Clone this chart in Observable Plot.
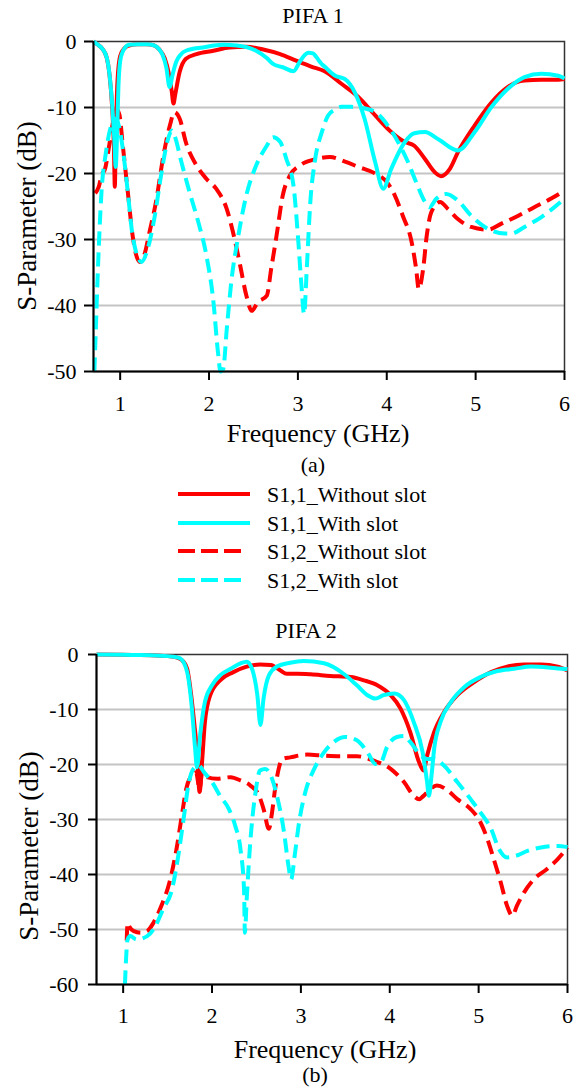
<!DOCTYPE html>
<html><head><meta charset="utf-8">
<script src="https://cdn.jsdelivr.net/npm/d3@7"></script>
<script src="https://cdn.jsdelivr.net/npm/@observablehq/plot@0.6"></script>
<style>
body{margin:0;background:#fff;}
#wrap{position:relative;width:583px;height:1088px;overflow:hidden;font-family:'Liberation Serif','DejaVu Serif',serif;}
#c1,#c2{position:absolute;left:0;}
#c1{top:0;} #c2{top:600px;}
#ov{position:absolute;left:0;top:0;pointer-events:none;}
svg text{font-family:'Liberation Serif','DejaVu Serif',serif !important;}
#ov text{fill:#000;}
</style></head><body>
<div id="wrap"><div id="c1"></div><div id="c2"></div>
<svg id="ov" width="583" height="1088" xmlns="http://www.w3.org/2000/svg" font-family="Liberation Serif">
  <text x="313" y="23" text-anchor="middle" font-size="22">PIFA 1</text>
  <text transform="translate(36,216) rotate(-90)" text-anchor="middle" font-size="27">S-Parameter (dB)</text>
  <text x="318" y="442" text-anchor="middle" font-size="26">Frequency (GHz)</text>
  <text x="313" y="472" text-anchor="middle" font-size="22">(a)</text>
  <line x1="178" x2="250" y1="494" y2="494" stroke="#ff0000" stroke-width="4"/>
  <line x1="178" x2="250" y1="523" y2="523" stroke="#00ffff" stroke-width="4"/>
  <line x1="178" x2="241" y1="551" y2="551" stroke="#ff0000" stroke-width="4" stroke-dasharray="17,6"/>
  <line x1="178" x2="241" y1="580" y2="580" stroke="#00ffff" stroke-width="4" stroke-dasharray="17,6"/>
  <text x="267" y="502" font-size="22">S1,1_Without slot</text>
  <text x="267" y="531" font-size="22">S1,1_With slot</text>
  <text x="267" y="559" font-size="22">S1,2_Without slot</text>
  <text x="267" y="588" font-size="22">S1,2_With slot</text>
  <text x="306" y="638" text-anchor="middle" font-size="22">PIFA 2</text>
  <text transform="translate(38,846) rotate(-90)" text-anchor="middle" font-size="27">S-Parameter (dB)</text>
  <text x="325" y="1058" text-anchor="middle" font-size="26">Frequency (GHz)</text>
  <text x="315" y="1082" text-anchor="middle" font-size="22">(b)</text>
</svg>
</div>
<script>
const RED = "#ff0000", CYAN = "#00ffff";
const xTicks = [1, 2, 3, 4, 5, 6];
const yTicks1 = [0, -10, -20, -30, -40, -50];
const yTicks2 = [0, -10, -20, -30, -40, -50, -60];

// PIFA 1
const p1S11WoF = [0.70,0.75,0.80,0.85,0.88,0.91,0.93,0.94,0.95,0.97,1.00,1.05,1.10,1.20,1.30,1.38,1.44,1.50,1.55,1.58,1.60,1.62,1.67,1.74,1.86,2.05,2.23,2.42,2.61,2.80,2.98,3.15,3.30,3.49,3.68,3.87,4.05,4.20,4.31,4.43,4.54,4.61,4.71,4.80,4.99,5.18,5.36,5.55,5.74,5.93,6.00];
const p1S11WoDb = [0,-0.5,-1.1,-2.5,-5,-10,-16,-22,-15,-6,-2.2,-1.0,-0.6,-0.4,-0.4,-0.6,-1.2,-2.5,-5,-7.5,-9.4,-8,-4.6,-2.6,-1.9,-1.4,-0.9,-0.8,-1.2,-1.9,-2.9,-3.8,-4.5,-6.4,-8.4,-11.2,-13.7,-15.2,-15.8,-17.8,-19.8,-20.4,-19.3,-16.8,-12.7,-9.2,-6.9,-5.9,-5.8,-5.8,-5.7];

const p1S11WF = [0.70,0.75,0.80,0.85,0.88,0.91,0.935,0.95,0.965,0.98,1.00,1.03,1.10,1.20,1.30,1.38,1.44,1.48,1.52,1.556,1.59,1.63,1.68,1.74,1.93,2.16,2.31,2.53,2.65,2.72,2.83,2.95,3.02,3.08,3.12,3.17,3.21,3.26,3.30,3.42,3.53,3.64,3.75,3.87,3.96,4.05,4.20,4.31,4.43,4.58,4.80,4.99,5.18,5.36,5.55,5.74,5.93,6.00];
const p1S11WDb = [0,-0.5,-1.1,-2.5,-5,-9.5,-15,-19,-14,-7,-3,-1.5,-0.5,-0.4,-0.4,-0.6,-1.2,-2.1,-4,-6.9,-5,-3.1,-2,-1.4,-0.9,-0.5,-0.6,-1.4,-2.5,-3.4,-3.9,-4.5,-3.1,-2.0,-1.7,-1.8,-2.4,-3.3,-3.8,-5.2,-5.7,-7.7,-11.7,-18.3,-22.3,-19.3,-15.3,-13.9,-13.7,-14.8,-16.5,-13.7,-9.9,-7.2,-5.4,-4.9,-5.2,-5.6];

const p1S12WoF = [0.72,0.76,0.79,0.83,0.88,0.92,0.96,0.99,1.03,1.09,1.14,1.22,1.27,1.33,1.41,1.48,1.56,1.61,1.67,1.74,1.86,1.97,2.08,2.20,2.27,2.35,2.42,2.48,2.55,2.65,2.70,2.76,2.83,2.91,3.02,3.21,3.36,3.53,3.68,3.87,4.00,4.09,4.18,4.28,4.33,4.36,4.41,4.45,4.50,4.60,4.69,4.80,4.95,5.14,5.29,5.48,5.66,5.85,6.00];
const p1S12WoDb = [-23,-22,-20.3,-19.3,-15.5,-12.2,-10.3,-11,-15.8,-23.3,-29.4,-33.4,-32.4,-28.9,-23.8,-17.8,-12.7,-10.7,-11.7,-15.3,-18.8,-20.8,-22.3,-25.4,-28.9,-33.9,-38.5,-40.8,-39.5,-38.5,-34.4,-29.4,-23.3,-20.3,-18.8,-17.8,-17.5,-18.2,-19.0,-20.0,-21.3,-23.3,-26.4,-30.4,-34.4,-37.5,-34.4,-29.4,-25.9,-24.3,-25.4,-26.9,-28.1,-28.5,-27.6,-26.4,-25.1,-23.8,-22.6];

const p1S12WF = [0.71,0.73,0.75,0.79,0.84,0.90,0.95,0.99,1.03,1.09,1.14,1.24,1.31,1.39,1.46,1.54,1.58,1.61,1.69,1.78,1.88,1.97,2.05,2.10,2.13,2.16,2.20,2.25,2.33,2.42,2.53,2.65,2.72,2.80,2.87,2.95,3.00,3.04,3.07,3.10,3.14,3.19,3.27,3.34,3.42,3.49,3.60,3.68,3.80,3.87,4.01,4.13,4.24,4.33,4.43,4.48,4.56,4.67,4.80,4.95,5.14,5.33,5.40,5.55,5.74,6.00];
const p1S12WDb = [-50,-42,-34.4,-22.8,-16.8,-12.7,-11.7,-13,-16.3,-23.3,-29.4,-33.4,-31.4,-26.4,-20.3,-14.7,-13.5,-14.2,-18.3,-22.8,-27.4,-32.4,-39.5,-47,-50,-49.6,-43.5,-36.5,-29.4,-23.3,-18.8,-15.8,-14.5,-15.2,-17.8,-21.8,-29.4,-37,-41.3,-34.4,-24.3,-18.2,-13.7,-11.2,-10.3,-9.9,-9.9,-10.0,-10.3,-10.7,-12.7,-15.3,-18.3,-21.3,-24.3,-25.1,-23.8,-23.1,-24.1,-26.4,-28.4,-29.1,-29.1,-28.1,-26.6,-23.8];

// PIFA 2
const p2S11WoF = [0.70,1.19,1.57,1.66,1.72,1.77,1.80,1.83,1.86,1.89,1.92,1.98,2.09,2.24,2.39,2.54,2.66,2.77,2.84,2.96,3.11,3.33,3.56,3.71,3.86,4.01,4.12,4.23,4.33,4.38,4.42,4.50,4.61,4.76,4.95,5.14,5.32,5.51,5.70,5.89,6.00];
const p2S11WoDb = [0,-0.1,-0.4,-1.0,-2.6,-8.0,-12.5,-17.5,-25,-19,-12.3,-7.4,-4.7,-3.2,-2.2,-1.8,-1.9,-2.9,-3.5,-3.5,-3.6,-3.9,-4.1,-4.7,-5.6,-7.4,-9.8,-14.1,-19.6,-21.1,-18.4,-14.1,-10.5,-7.4,-5.0,-3.2,-2.2,-1.8,-1.8,-2.2,-2.9];

const p2S11WF = [0.70,1.19,1.57,1.64,1.72,1.77,1.81,1.83,1.87,1.92,2.00,2.09,2.21,2.32,2.39,2.45,2.51,2.545,2.58,2.64,2.73,2.88,3.03,3.26,3.48,3.63,3.75,3.84,3.93,4.05,4.16,4.27,4.37,4.42,4.44,4.47,4.50,4.57,4.69,4.84,5.02,5.21,5.40,5.59,5.81,6.00];
const p2S11WDb = [0,-0.1,-0.4,-0.7,-3.2,-9.2,-17.1,-20.5,-14.1,-8.6,-5.6,-3.8,-2.6,-1.6,-1.3,-2.6,-7.4,-12.8,-8.0,-3.8,-2.2,-1.5,-1.2,-1.6,-3.5,-5.6,-7.4,-8.0,-7.4,-7.1,-8.3,-12.3,-17.8,-23.2,-25.7,-22.0,-17.1,-12.3,-8.6,-5.9,-4.1,-3.0,-2.6,-2.2,-2.4,-2.7];

const p2S12WoF = [1.04,1.05,1.07,1.12,1.20,1.27,1.34,1.43,1.52,1.60,1.66,1.71,1.77,1.82,1.86,1.89,1.94,2.06,2.21,2.32,2.43,2.53,2.58,2.64,2.67,2.71,2.75,2.79,2.88,3.07,3.26,3.44,3.63,3.82,4.01,4.16,4.27,4.33,4.38,4.46,4.53,4.65,4.76,4.91,5.02,5.10,5.17,5.25,5.32,5.38,5.43,5.51,5.62,5.77,5.89,6.00];
const p2S12WoDb = [-52,-48.8,-49.5,-50.3,-50.6,-50.3,-48.8,-45.7,-41.5,-35.4,-29.3,-24.4,-22.0,-21.4,-24.4,-21.4,-22.3,-22.6,-22.3,-22.9,-23.8,-25.7,-28.1,-31.7,-29.3,-24.4,-20.8,-19.0,-18.7,-18.2,-18.4,-18.5,-18.5,-19.3,-20.8,-23.2,-25.7,-26.3,-25.7,-24.4,-23.8,-24.7,-26.3,-28.1,-30.5,-33.6,-37.2,-41.5,-45.7,-47.5,-45.7,-43.3,-40.9,-39.0,-37.2,-35.1];

const p2S12WF = [1.02,1.05,1.08,1.15,1.27,1.34,1.45,1.55,1.62,1.68,1.74,1.79,1.85,1.91,2.00,2.09,2.19,2.26,2.32,2.36,2.37,2.39,2.43,2.49,2.54,2.60,2.66,2.73,2.81,2.86,2.89,2.93,2.98,3.05,3.15,3.26,3.37,3.50,3.63,3.75,3.84,3.90,3.97,4.08,4.16,4.23,4.35,4.42,4.50,4.61,4.76,4.91,5.02,5.14,5.23,5.32,5.42,5.55,5.70,5.89,6.00];
const p2S12WDb = [-60,-51.8,-51.2,-51.8,-51.2,-50,-46.3,-42.7,-36.6,-29.9,-23.2,-20.8,-20.2,-21.4,-23.2,-25.7,-28.1,-31.1,-35.4,-42.7,-50.6,-44.5,-34.2,-25.0,-21.1,-20.8,-22.0,-25.7,-32.3,-38.4,-40.9,-36.6,-30.5,-25.0,-20.8,-17.8,-15.9,-15.0,-15.6,-17.8,-19.9,-19.6,-16.8,-15.0,-14.8,-15.9,-18.4,-19.0,-19.0,-20.2,-23.2,-26.3,-28.7,-31.7,-35.4,-36.9,-36.6,-35.7,-35.1,-34.8,-35.0];

function rows(f, v) { return f.map((x, i) => ({f: x, v: v[i]})); }

function makeChart(cfg) {
  const fmt = d => String(d);
  const series = [
    {f: cfg.s11wo[0], v: cfg.s11wo[1], stroke: RED, dash: null},
    {f: cfg.s12wo[0], v: cfg.s12wo[1], stroke: RED, dash: "14,7"},
    {f: cfg.s12w[0], v: cfg.s12w[1], stroke: CYAN, dash: "14,7"},
    {f: cfg.s11w[0], v: cfg.s11w[1], stroke: CYAN, dash: null}
  ];
  return Plot.plot({
    width: 583,
    height: cfg.height,
    marginLeft: cfg.ml, marginRight: cfg.mr, marginTop: cfg.mt, marginBottom: cfg.mb,
    style: {fontFamily: "'Liberation Serif','DejaVu Serif',serif", fontSize: "22px", color: "#000", background: "transparent", overflow: "visible"},
    x: {domain: [0.7, 6], axis: null, label: null},
    y: {domain: [cfg.ymin, 0], axis: null, label: null},
    marks: [
      Plot.ruleY(cfg.yticks.filter(d => d !== 0 && d !== cfg.ymin), {stroke: "#c4c4c4", strokeWidth: 1.8}),
      Plot.frame({stroke: "#333", strokeWidth: 1.5}),
      ...series.map(s => Plot.line(rows(s.f, s.v), {x: "f", y: "v", stroke: s.stroke, strokeWidth: 4, curve: "monotone-x", strokeDasharray: s.dash, strokeLinecap: "butt"})),
      Plot.ruleX([0.7], {stroke: "#000", strokeWidth: 2}),
      Plot.ruleY([cfg.ymin], {stroke: "#000", strokeWidth: 2}),
      Plot.axisX(xTicks, {tickSize: 9, tickPadding: cfg.xpad, tickFormat: fmt, strokeWidth: 2, fontSize: 22, fontFamily: "Liberation Serif", label: null}),
      Plot.axisY(cfg.yticks, {tickSize: cfg.ytick, tickPadding: cfg.ypad, tickFormat: fmt, strokeWidth: 2, fontSize: 22, fontFamily: "Liberation Serif", label: null})
    ]
  });
}

document.getElementById("c1").appendChild(makeChart({
  height: 416, ml: 93, mr: 19, mt: 41, mb: 45, ymin: -50, yticks: yTicks1, xpad: 15, ypad: 8, ytick: 9,
  s11wo: [p1S11WoF, p1S11WoDb], s11w: [p1S11WF, p1S11WDb], s12wo: [p1S12WoF, p1S12WoDb], s12w: [p1S12WF, p1S12WDb]
}));
document.getElementById("c2").appendChild(makeChart({
  height: 429, ml: 96, mr: 16, mt: 54, mb: 45, ymin: -60, yticks: yTicks2, xpad: 14, ypad: 10, ytick: 8,
  s11wo: [p2S11WoF, p2S11WoDb], s11w: [p2S11WF, p2S11WDb], s12wo: [p2S12WoF, p2S12WoDb], s12w: [p2S12WF, p2S12WDb]
}));
</script>
</body></html>
